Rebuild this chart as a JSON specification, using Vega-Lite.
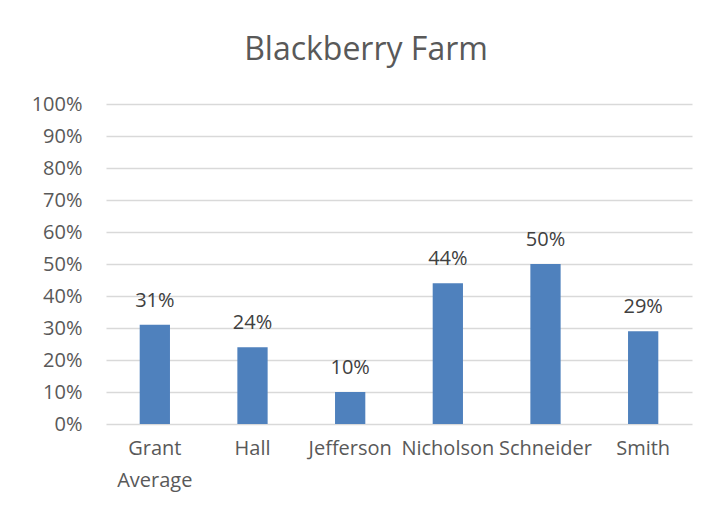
{
  "$schema": "https://vega.github.io/schema/vega-lite/v6.json",
  "autosize": "none",
  "width": 586,
  "height": 320,
  "padding": {"left": 106, "top": 104, "right": 36, "bottom": 88},
  "background": "white",
  "config": {"view": {"stroke": null}, "font": "Open Sans"},
  "title": {
    "text": "Blackberry Farm",
    "font": "Open Sans",
    "fontSize": 32,
    "fontWeight": "normal",
    "color": "#595959",
    "baseline": "alphabetic",
    "offset": 2,
    "dx": -33
  },
  "data": {
    "values": [
      {"name": "Grant Average", "pct": 0.31},
      {"name": "Hall", "pct": 0.24},
      {"name": "Jefferson", "pct": 0.10},
      {"name": "Nicholson", "pct": 0.44},
      {"name": "Schneider", "pct": 0.50},
      {"name": "Smith", "pct": 0.29}
    ]
  },
  "encoding": {
    "x": {
      "field": "name",
      "type": "nominal",
      "sort": null,
      "scale": {"paddingInner": 0.69, "paddingOuter": 0.345},
      "axis": {
        "title": null,
        "labelAngle": 0,
        "labelFont": "Open Sans",
        "labelFontSize": 20,
        "labelColor": "#595959",
        "labelPadding": 14,
        "labelLineHeight": 32,
        "labelExpr": "datum.label == 'Grant Average' ? ['Grant', 'Average'] : datum.label",
        "labelOverlap": false,
        "ticks": false,
        "domain": false,
        "grid": false
      }
    },
    "y": {
      "field": "pct",
      "type": "quantitative",
      "scale": {"domain": [0, 1], "nice": false},
      "axis": {
        "title": null,
        "values": [0, 0.1, 0.2, 0.3, 0.4, 0.5, 0.6, 0.7, 0.8, 0.9, 1.0],
        "format": ".0%",
        "labelFont": "Open Sans",
        "labelFontSize": 20,
        "labelColor": "#595959",
        "labelPadding": 24,
        "ticks": false,
        "domain": false,
        "grid": true,
        "gridColor": "#d9d9d9",
        "gridWidth": 1.3
      }
    }
  },
  "layer": [
    {"mark": {"type": "bar", "color": "#4f81bd"}},
    {
      "mark": {
        "type": "text",
        "baseline": "alphabetic",
        "dy": -18,
        "font": "Open Sans",
        "fontSize": 20,
        "color": "#404040"
      },
      "encoding": {"text": {"field": "pct", "type": "quantitative", "format": ".0%"}}
    }
  ]
}
